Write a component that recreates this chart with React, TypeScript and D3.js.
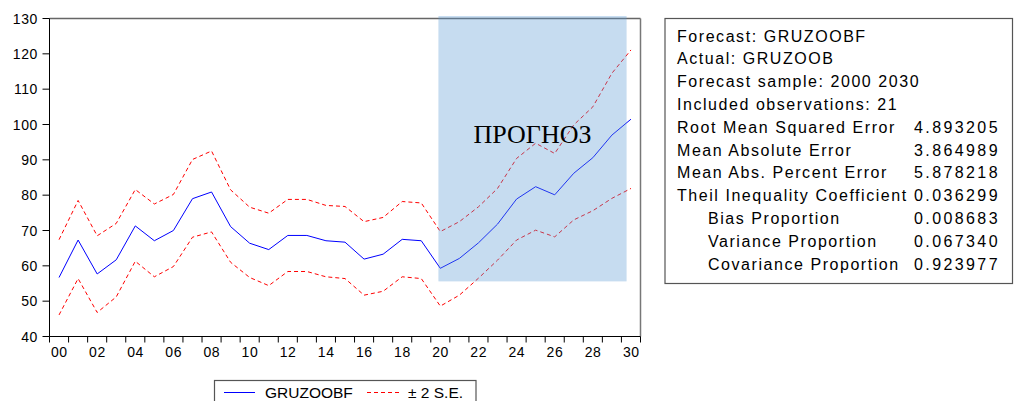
import React from "react";
import * as d3 from "d3";

// ---- data ----
const years = [2000, 2001, 2002, 2003, 2004, 2005, 2006, 2007, 2008, 2009, 2010, 2011, 2012, 2013, 2014, 2015, 2016, 2017, 2018, 2019, 2020, 2021, 2022, 2023, 2024, 2025, 2026, 2027, 2028, 2029, 2030];
const forecast = [56.7, 67.3, 57.7, 61.7, 71.3, 67.1, 70.0, 79.0, 80.9, 71.1, 66.4, 64.6, 68.6, 68.6, 67.1, 66.7, 61.9, 63.3, 67.5, 67.1, 59.3, 62.1, 66.5, 71.8, 78.9, 82.4, 80.1, 86.2, 90.6, 97.0, 101.5];
const upper = [67.4, 78.5, 68.5, 72.0, 81.6, 77.5, 80.2, 90.1, 92.5, 81.5, 76.6, 74.9, 78.8, 78.8, 77.1, 76.8, 72.5, 73.7, 78.2, 77.8, 69.7, 72.5, 76.7, 81.9, 90.4, 94.7, 91.8, 99.9, 105.0, 114.5, 121.1];
const lower = [46.1, 56.4, 46.8, 51.2, 61.3, 56.9, 59.8, 68.1, 69.6, 61.0, 56.7, 54.4, 58.4, 58.4, 56.9, 56.4, 51.7, 52.8, 56.9, 56.4, 48.6, 51.7, 56.5, 61.6, 67.3, 70.1, 68.2, 73.0, 75.6, 79.1, 81.9];
const yTicks = [40, 50, 60, 70, 80, 90, 100, 110, 120, 130];
const xLabelYears = [2000, 2002, 2004, 2006, 2008, 2010, 2012, 2014, 2016, 2018, 2020, 2022, 2024, 2026, 2028, 2030];
const shadeYears = [2019.9, 2029.77];
const shadeValues = [55.6, 130.7];
const shadeLabel = "ПРОГНОЗ";
const legendLabels = ["GRUZOOBF", "± 2 S.E."];
const statLabels = [
  "Forecast: GRUZOOBF",
  "Actual: GRUZOOB",
  "Forecast sample: 2000 2030",
  "Included observations: 21",
  "Root Mean Squared Error",
  "Mean Absolute Error",
  "Mean Abs. Percent Error",
  "Theil Inequality Coefficient",
  "Bias Proportion",
  "Variance Proportion",
  "Covariance Proportion",
];
const statValues = ["", "", "", "", "4.893205", "3.864989", "5.878218", "0.036299", "0.008683", "0.067340", "0.923977"];
const statIndent = [false, false, false, false, false, false, false, false, true, true, true];

const FONT = "'Liberation Sans', Arial, sans-serif";

export default function App() {
  const left = 49.5, right = 640.5, top = 18.5, bottom = 336.5;
  const x = d3.scaleLinear().domain([1999.5, 2030.5]).range([left, right]);
  const y = d3.scaleLinear().domain([40, 130]).range([bottom, top]);
  const line = (vals: number[]) =>
    d3.line<number>().x((_, i) => x(years[i])).y((v) => y(v))(vals) || "";

  const boundaries = [1999.5, ...years.map((yr) => yr + 0.5)];

  return (
    <svg
      width={1014}
      height={401}
      style={{ position: "absolute", left: 0, top: 0, background: "#fff" }}
      fontFamily={FONT}
    >
      <rect x={0} y={0} width={1014} height={401} fill="#fff" />
      {/* frame */}
      <line x1={left} x2={right} y1={top} y2={top} stroke="#666" strokeWidth={1.5} />
      <line x1={right} x2={right} y1={top} y2={bottom} stroke="#777" strokeWidth={1.5} />
      <line x1={left} x2={left} y1={top} y2={bottom} stroke="#000" strokeWidth={1} />
      <line x1={left} x2={right} y1={bottom} y2={bottom} stroke="#000" strokeWidth={1} />

      {/* y ticks */}
      {yTicks.map((t) => (
        <g key={t}>
          <line x1={left - 7} x2={left} y1={y(t)} y2={y(t)} stroke="#000" />
          <text x={38} y={y(t)} dy="0.36em" textAnchor="end" fontSize={14} letterSpacing={0.6} fill="#000">
            {t}
          </text>
        </g>
      ))}
      {/* x ticks */}
      {boundaries.map((b) => (
        <line key={b} x1={x(b)} x2={x(b)} y1={bottom} y2={bottom + 6} stroke="#000" />
      ))}
      {xLabelYears.map((yr) => (
        <text key={yr} x={x(yr) + 0.3} y={357} textAnchor="middle" fontSize={14} letterSpacing={0.6} fill="#000">
          {String(yr).slice(2)}
        </text>
      ))}

      {/* series */}
      <path d={line(upper)} fill="none" stroke="#ff0000" strokeWidth={1} strokeDasharray="4,3" />
      <path d={line(lower)} fill="none" stroke="#ff0000" strokeWidth={1} strokeDasharray="4,3" />
      <path d={line(forecast)} fill="none" stroke="#0000ff" strokeWidth={1} />

      {/* forecast shade overlay */}
      <rect
        x={x(shadeYears[0])}
        y={y(shadeValues[1])}
        width={x(shadeYears[1]) - x(shadeYears[0])}
        height={y(shadeValues[0]) - y(shadeValues[1])}
        fill="rgb(91,155,213)"
        fillOpacity={0.35}
      />
      <text
        x={(x(shadeYears[0]) + x(shadeYears[1])) / 2}
        y={143}
        textAnchor="middle"
        fontFamily="'Liberation Serif', 'Times New Roman', serif"
        fontSize={26}
        fill="#000"
      >
        {shadeLabel}
      </text>

      {/* legend */}
      <rect x={214.5} y={380.5} width={261.5} height={30} fill="#fff" stroke="#555" strokeWidth={1.2} />
      <line x1={224} x2={255} y1={392.5} y2={392.5} stroke="#0000ff" strokeWidth={1} />
      <text x={265} y={397.5} fontSize={15.5} fill="#000">{legendLabels[0]}</text>
      <line x1={367} x2={400} y1={392.5} y2={392.5} stroke="#ff0000" strokeWidth={1} strokeDasharray="4,3" />
      <text x={408} y={397.5} fontSize={15.5} fill="#000">{legendLabels[1]}</text>

      {/* stats box */}
      <rect x={665} y={18.5} width={347.5} height={265} fill="#fff" stroke="#555" strokeWidth={1.2} />
      {statLabels.map((s, i) => (
        <g key={s}>
          <text x={statIndent[i] ? 708 : 677} y={41.5 + i * 22.8} fontSize={16} letterSpacing={1.55} fill="#000">
            {s}
          </text>
          {statValues[i] && (
            <text x={914} y={41.5 + i * 22.8} fontSize={16} letterSpacing={2.4} fill="#000">
              {statValues[i]}
            </text>
          )}
        </g>
      ))}
    </svg>
  );
}
